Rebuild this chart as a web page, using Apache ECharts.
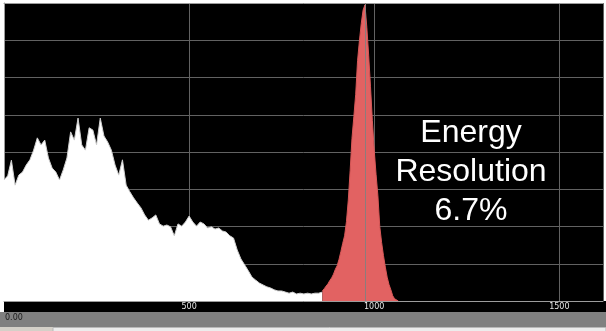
<!DOCTYPE html>
<html>
<head>
<meta charset="utf-8">
<title>Energy Resolution</title>
<script src="https://cdn.jsdelivr.net/npm/echarts@6/dist/echarts.min.js"></script>
<style>
  html, body { margin: 0; padding: 0; background: #fff; }
  #chart { width: 606px; height: 331px; }
</style>
</head>
<body>
<div id="chart"></div>
<script>
// 스펙트럼 (채널 0 ~ 860, 10채널 간격)
const WHITE_START = 0;
const WHITE_STEP = 10;
const whiteCounts = [
    325, 336, 378, 311, 338, 346, 365, 379, 405, 438,
    419, 432, 384, 357, 346, 325, 352, 384, 454, 432,
    491, 419, 405, 465, 459, 419, 491, 443, 427, 405,
    365, 338, 379, 311, 293, 277, 263, 250, 231, 217,
    223, 231, 207, 201, 204, 199, 175, 207, 201, 212,
    228, 212, 201, 212, 207, 196, 199, 193, 196, 188,
    185, 175, 169, 137, 113, 97, 81, 64, 56, 48,
    43, 38, 35, 30, 27, 27, 24, 21, 24, 19,
    21, 19, 21, 19, 21, 21, 24
];

// 광전 피크 (채널 860 ~ 1065, 5채널 간격)
const PEAK_START = 860;
const PEAK_STEP = 5;
const peakCounts = [
    27, 33, 40, 46, 55, 62, 72, 85, 95, 112,
    133, 155, 175, 213, 271, 350, 437, 495, 555, 645,
    698, 745, 781, 795, 735, 660, 575, 485, 405, 340,
    282, 200, 157, 122, 91, 64, 44, 30, 14, 6,
    2, 0
];

const CENTROID_CHANNEL = 976;
const xTickLabels = [500, 1000, 1500];
const annotationLines = ['Energy', 'Resolution', '6.7%'];
const scaleLabel = '0.00';

const X_MAX = 1618;
const Y_MAX = 800;
const GRID_COLOR = '#626262';
const FRAME_COLOR = '#9c9c9c';

/**
 * @description 시작 채널/간격으로 [채널, 카운트] 쌍 생성
 */
function toPairs(start, step, counts) {
    return counts.map((count, i) => [start + i * step, count]);
}

const chart = echarts.init(document.getElementById('chart'));

const option = {
    animation: false,
    backgroundColor: '#ffffff',
    grid: {
        left: 4,
        right: 0,
        top: 3,
        bottom: 30,
        show: true,
        backgroundColor: '#000000',
        borderWidth: 0
    },
    xAxis: [{
        type: 'value',
        min: 0,
        max: X_MAX,
        interval: 500,
        position: 'bottom',
        axisLine: { show: true, lineStyle: { color: FRAME_COLOR } },
        axisTick: { show: false },
        splitLine: { show: true, lineStyle: { color: GRID_COLOR } },
        axisLabel: {
            color: '#e6e6e6',
            fontSize: 8,
            fontFamily: 'DejaVu Sans',
            margin: 2,
            formatter: (value) => xTickLabels.includes(value) ? String(value) : ''
        }
    }, {
        type: 'value',
        min: 0,
        max: X_MAX,
        position: 'top',
        axisLine: { show: true, lineStyle: { color: FRAME_COLOR } },
        axisTick: { show: false },
        axisLabel: { show: false },
        splitLine: { show: false }
    }],
    yAxis: {
        type: 'value',
        min: 0,
        max: Y_MAX,
        interval: 100,
        axisLine: { show: true, lineStyle: { color: FRAME_COLOR } },
        axisTick: { show: false },
        axisLabel: { show: false },
        splitLine: { show: true, lineStyle: { color: GRID_COLOR } }
    },
    series: [{
        type: 'line',
        data: toPairs(WHITE_START, WHITE_STEP, whiteCounts),
        symbol: 'none',
        lineStyle: { color: '#cfcfcf', width: 1 },
        areaStyle: { color: '#ffffff', opacity: 1 },
        z: 3
    }, {
        type: 'line',
        data: toPairs(PEAK_START, PEAK_STEP, peakCounts),
        symbol: 'none',
        lineStyle: { color: '#d85858', width: 1 },
        areaStyle: { color: '#e26262', opacity: 1 },
        markLine: {
            silent: true,
            symbol: 'none',
            label: { show: false },
            lineStyle: { color: '#8c7c7c', type: 'solid', width: 1 },
            data: [{ xAxis: CENTROID_CHANNEL }]
        },
        z: 4
    }],
    graphic: [
        // 하단 축 영역 배경
        { type: 'rect', z: -10, shape: { x: 4, y: 301, width: 602, height: 11 }, style: { fill: '#000000' } },
        { type: 'rect', z: -10, shape: { x: 0, y: 312, width: 606, height: 15 }, style: { fill: '#808080' } },
        { type: 'rect', z: -10, shape: { x: 0, y: 327, width: 606, height: 4 }, style: { fill: '#d4d0c8' } },
        { type: 'rect', z: -9, shape: { x: 53, y: 327.5, width: 553, height: 4 }, style: { fill: '#ececec', stroke: '#b8b8b8', lineWidth: 1 } },
        {
            type: 'text', z: -5, x: 5, y: 314,
            style: { text: scaleLabel, fill: '#1a1a1a', font: '8px "DejaVu Sans"' }
        },
        {
            type: 'text', z: 100, x: 471, y: 114,
            style: {
                text: annotationLines.join('\n'),
                fill: '#ffffff',
                font: '32px "Liberation Sans"',
                align: 'center',
                verticalAlign: 'top',
                lineHeight: 39
            }
        }
    ]
};

chart.setOption(option);
</script>
</body>
</html>
